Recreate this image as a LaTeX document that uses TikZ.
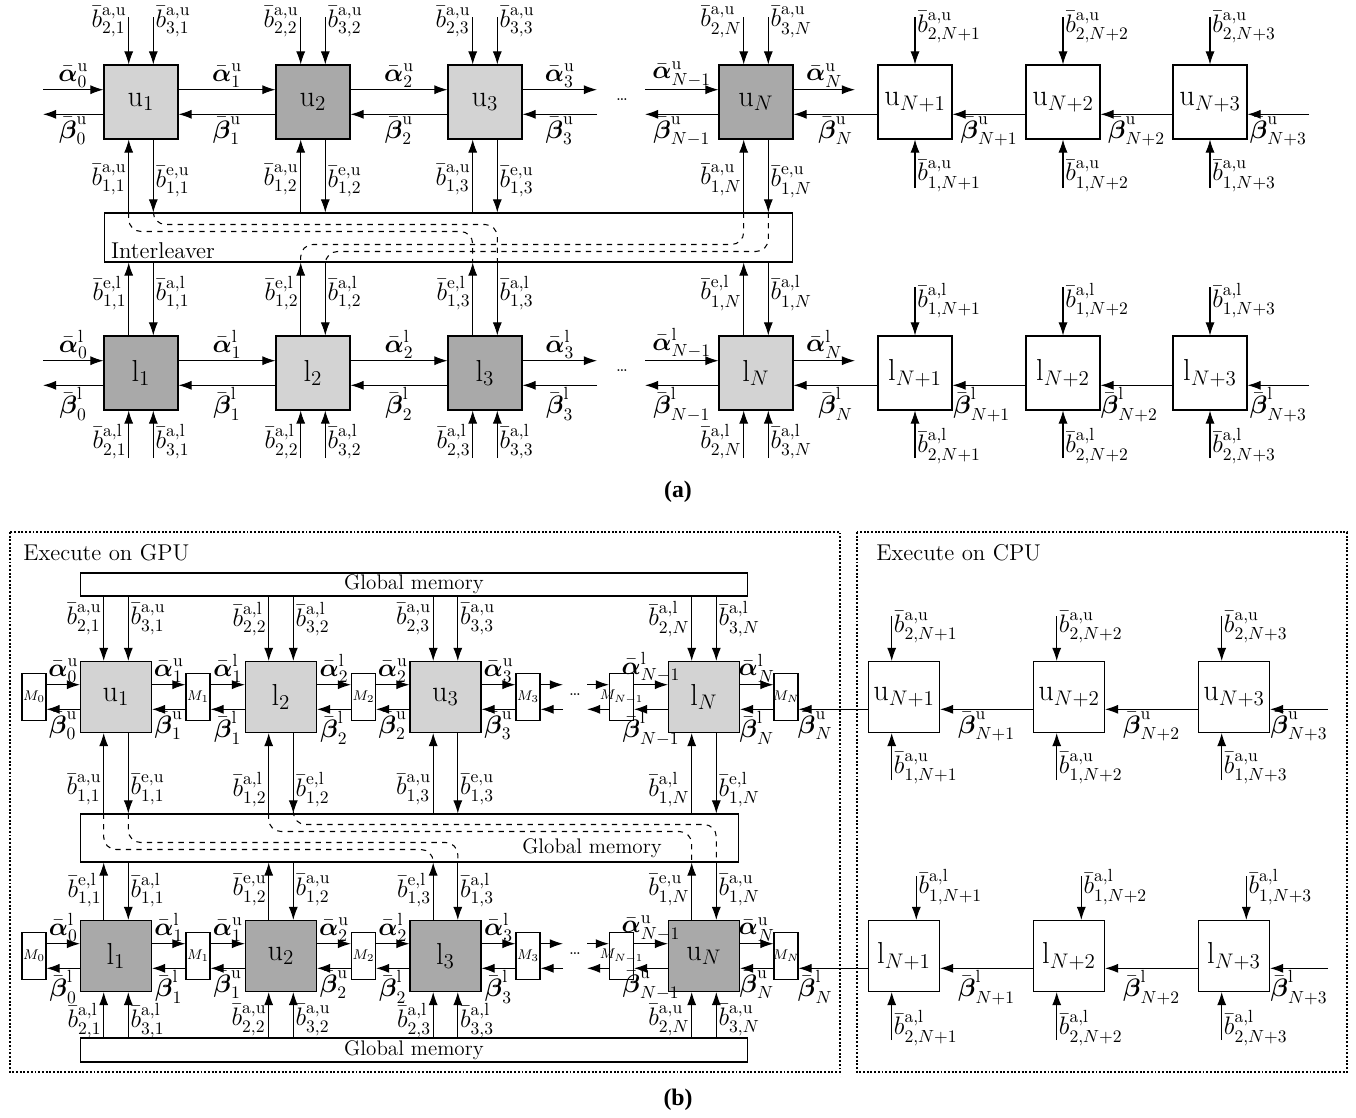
\documentclass[tikz,border=0pt]{standalone}
\usepackage{amsmath}
\usepackage{fontspec}
\newfontfamily\capfont{Liberation Serif}
\usetikzlibrary{arrows.meta}

\definecolor{lightbox}{HTML}{D3D3D3}
\definecolor{darkbox}{HTML}{A9A9A9}

\newcommand{\bbit}[2]{\bar{b}^{\mathrm{#1}}_{#2}}
\newcommand{\albar}[2]{\bar{\boldsymbol{\alpha}}^{\mathrm{#1}}_{#2}}
\newcommand{\bebar}[2]{\bar{\boldsymbol{\beta}}^{\mathrm{#1}}_{#2}}

\tikzset{
  blk/.style={draw, minimum size=1.48cm, inner sep=0pt, font=\LARGE},
  cblk/.style={blk, minimum size=1.42cm},
  lite/.style={fill=lightbox},
  dark/.style={fill=darkbox},
  mbox/.style={draw, fill=white, minimum width=0.48cm, minimum height=0.94cm, inner sep=0pt},
  mem/.style={draw, inner sep=0pt},
  arr/.style={-{Latex[length=7.5pt,width=5.2pt]}},
  lbl/.style={font=\Large, inner sep=1pt},
  link/.style={dashed, rounded corners=7pt},
  area/.style={densely dotted, line width=1.1pt},
  captxt/.style={font=\capfont\bfseries\fontsize{13.5}{16}\selectfont},
}

\begin{document}
\begin{tikzpicture}[x=0.02cm, y=-0.02cm, line width=0.6pt]
  \useasboundingbox (0,0) rectangle (1356,1117);

  % Arrow offset from the box middle
  \def\pofs{7pt}

  % ================= (a) =================
  % Levels of the free ends
  \coordinate (atop) at (0,17);
  \coordinate (rmid) at (0,188);
  \coordinate (rtop) at (0,287);
  \coordinate (abot) at (0,458);

  % Upper decoder
  \node[blk, lite] (u1) at (141,102) {$\mathrm{u}_1$};
  \node[blk, dark] (u2) at (313,102) {$\mathrm{u}_2$};
  \node[blk, lite] (u3) at (485,102) {$\mathrm{u}_3$};
  \node[blk, dark] (uN) at (756,102) {$\mathrm{u}_N$};
  \node[blk] (uN1) at (915,102) {$\mathrm{u}_{N+1}$};
  \node[blk] (uN2) at (1063,102) {$\mathrm{u}_{N+2}$};
  \node[blk] (uN3) at (1210,102) {$\mathrm{u}_{N+3}$};
  \coordinate (uL) at (43,102);
  \coordinate (uR3) at (597,102);
  \coordinate (uLN) at (645,102);
  \coordinate (uRN) at (855,102);
  \coordinate (uR) at (1309,102);
  \node (udots) at (622,100) {\dots};

  % Lower decoder
  \node[blk, dark] (l1) at (141,373) {$\mathrm{l}_1$};
  \node[blk, lite] (l2) at (313,373) {$\mathrm{l}_2$};
  \node[blk, dark] (l3) at (485,373) {$\mathrm{l}_3$};
  \node[blk, lite] (lN) at (756,373) {$\mathrm{l}_N$};
  \node[blk] (lN1) at (915,373) {$\mathrm{l}_{N+1}$};
  \node[blk] (lN2) at (1063,373) {$\mathrm{l}_{N+2}$};
  \node[blk] (lN3) at (1210,373) {$\mathrm{l}_{N+3}$};
  \coordinate (lL) at (43,373);
  \coordinate (lR3) at (597,373);
  \coordinate (lLN) at (645,373);
  \coordinate (lRN) at (855,373);
  \coordinate (lR) at (1309,373);
  \node (ldots) at (622,371) {\dots};

  % Interleaver
  \node[mem, minimum width=13.78cm, minimum height=0.98cm] (il) at (448.5,237.5) {};
  \node[anchor=south west, inner sep=2pt, xshift=2pt, font=\fontsize{13}{15}\selectfont] (iltxt) at (il.south west) {Interleaver};

  % Upper chain
  \draw[arr] ([yshift=\pofs]uL) -- ([yshift=\pofs]u1.west) node[lbl, midway, above] {$\albar{u}{0}$};
  \draw[arr] ([yshift=-\pofs]u1.west) -- ([yshift=-\pofs]uL) node[lbl, midway, below] {$\bebar{u}{0}$};
  \draw[arr] ([yshift=\pofs]u1.east) -- ([yshift=\pofs]u2.west) node[lbl, midway, above] {$\albar{u}{1}$};
  \draw[arr] ([yshift=-\pofs]u2.west) -- ([yshift=-\pofs]u1.east) node[lbl, midway, below] {$\bebar{u}{1}$};
  \draw[arr] ([yshift=\pofs]u2.east) -- ([yshift=\pofs]u3.west) node[lbl, midway, above] {$\albar{u}{2}$};
  \draw[arr] ([yshift=-\pofs]u3.west) -- ([yshift=-\pofs]u2.east) node[lbl, midway, below] {$\bebar{u}{2}$};
  \draw[arr] ([yshift=\pofs]u3.east) -- ([yshift=\pofs]uR3) node[lbl, midway, above] {$\albar{u}{3}$};
  \draw[arr] ([yshift=-\pofs]uR3) -- ([yshift=-\pofs]u3.east) node[lbl, midway, below] {$\bebar{u}{3}$};
  \draw[arr] ([yshift=\pofs]uLN) -- ([yshift=\pofs]uN.west) node[lbl, midway, above] {$\albar{u}{N-1}$};
  \draw[arr] ([yshift=-\pofs]uN.west) -- ([yshift=-\pofs]uLN) node[lbl, midway, below] {$\bebar{u}{N-1}$};
  \draw[arr] ([yshift=\pofs]uN.east) -- ([yshift=\pofs]uRN) node[lbl, midway, above] {$\albar{u}{N}$};
  \draw[arr] ([yshift=-\pofs]uN1.west) -- ([yshift=-\pofs]uN.east) node[lbl, midway, below] {$\bebar{u}{N}$};
  \draw[arr] ([yshift=-\pofs]uN2.west) -- ([yshift=-\pofs]uN1.east) node[lbl, midway, below] {$\bebar{u}{N+1}$};
  \draw[arr] ([yshift=-\pofs]uN3.west) -- ([yshift=-\pofs]uN2.east) node[lbl, midway, below] {$\bebar{u}{N+2}$};
  \draw[arr] ([yshift=-\pofs]uR) -- ([yshift=-\pofs]uN3.east) node[lbl, midway, below] {$\bebar{u}{N+3}$};

  % Lower chain
  \draw[arr] ([yshift=\pofs]lL) -- ([yshift=\pofs]l1.west) node[lbl, midway, above] {$\albar{l}{0}$};
  \draw[arr] ([yshift=-\pofs]l1.west) -- ([yshift=-\pofs]lL) node[lbl, midway, below] {$\bebar{l}{0}$};
  \draw[arr] ([yshift=\pofs]l1.east) -- ([yshift=\pofs]l2.west) node[lbl, midway, above] {$\albar{l}{1}$};
  \draw[arr] ([yshift=-\pofs]l2.west) -- ([yshift=-\pofs]l1.east) node[lbl, midway, below] {$\bebar{l}{1}$};
  \draw[arr] ([yshift=\pofs]l2.east) -- ([yshift=\pofs]l3.west) node[lbl, midway, above] {$\albar{l}{2}$};
  \draw[arr] ([yshift=-\pofs]l3.west) -- ([yshift=-\pofs]l2.east) node[lbl, midway, below] {$\bebar{l}{2}$};
  \draw[arr] ([yshift=\pofs]l3.east) -- ([yshift=\pofs]lR3) node[lbl, midway, above] {$\albar{l}{3}$};
  \draw[arr] ([yshift=-\pofs]lR3) -- ([yshift=-\pofs]l3.east) node[lbl, midway, below] {$\bebar{l}{3}$};
  \draw[arr] ([yshift=\pofs]lLN) -- ([yshift=\pofs]lN.west) node[lbl, midway, above] {$\albar{l}{N-1}$};
  \draw[arr] ([yshift=-\pofs]lN.west) -- ([yshift=-\pofs]lLN) node[lbl, midway, below] {$\bebar{l}{N-1}$};
  \draw[arr] ([yshift=\pofs]lN.east) -- ([yshift=\pofs]lRN) node[lbl, midway, above] {$\albar{l}{N}$};
  \draw[arr] ([yshift=-\pofs]lN1.west) -- ([yshift=-\pofs]lN.east) node[lbl, midway, below] {$\bebar{l}{N}$};
  \draw[arr] ([yshift=-\pofs]lN2.west) -- ([yshift=-\pofs]lN1.east) node[lbl, pos=0.6, below] {$\bebar{l}{N+1}$};
  \draw[arr] ([yshift=-\pofs]lN3.west) -- ([yshift=-\pofs]lN2.east) node[lbl, pos=0.6, below] {$\bebar{l}{N+2}$};
  \draw[arr] ([yshift=-\pofs]lR) -- ([yshift=-\pofs]lN3.east) node[lbl, midway, below] {$\bebar{l}{N+3}$};

  % Upper decoder inputs and outputs
  \foreach \n/\i in {u1/1, u2/2, u3/3, uN/N} {
    \draw[arr] ([xshift=-\pofs]\n.north |- atop) -- ([xshift=-\pofs]\n.north) node[lbl, pos=0.1, left] {$\bbit{a,u}{2,\i}$};
    \draw[arr] ([xshift=\pofs]\n.north |- atop) -- ([xshift=\pofs]\n.north) node[lbl, pos=0.1, right] {$\bbit{a,u}{3,\i}$};
    \draw[arr] ([xshift=-\pofs]\n.south |- il.north) -- ([xshift=-\pofs]\n.south) node[lbl, pos=0.45, left] {$\bbit{a,u}{1,\i}$};
    \draw[arr] ([xshift=\pofs]\n.south) -- ([xshift=\pofs]\n.south |- il.north) node[lbl, pos=0.58, right] {$\bbit{e,u}{1,\i}$};
  }

  % Lower decoder inputs and outputs
  \foreach \n/\i in {l1/1, l2/2, l3/3, lN/N} {
    \draw[arr] ([xshift=-\pofs]\n.north) -- ([xshift=-\pofs]\n.north |- il.south) node[lbl, pos=0.58, left] {$\bbit{e,l}{1,\i}$};
    \draw[arr] ([xshift=\pofs]\n.north |- il.south) -- ([xshift=\pofs]\n.north) node[lbl, pos=0.42, right] {$\bbit{a,l}{1,\i}$};
    \draw[arr] ([xshift=-\pofs]\n.south |- abot) -- ([xshift=-\pofs]\n.south) node[lbl, pos=0.35, left] {$\bbit{a,l}{2,\i}$};
    \draw[arr] ([xshift=\pofs]\n.south |- abot) -- ([xshift=\pofs]\n.south) node[lbl, pos=0.35, right] {$\bbit{a,l}{3,\i}$};
  }

  % Tail boxes
  \foreach \n/\i in {uN1/N+1, uN2/N+2, uN3/N+3} {
    \draw[arr] (\n.north |- atop) -- (\n.north) node[lbl, pos=0.22, right] {$\bbit{a,u}{2,\i}$};
    \draw[arr] (\n.south |- rmid) -- (\n.south) node[lbl, pos=0.25, right] {$\bbit{a,u}{1,\i}$};
  }
  \foreach \n/\i in {lN1/N+1, lN2/N+2, lN3/N+3} {
    \draw[arr] (\n.north |- rtop) -- (\n.north) node[lbl, pos=0.28, right] {$\bbit{a,l}{1,\i}$};
    \draw[arr] (\n.south |- abot) -- (\n.south) node[lbl, pos=0.25, right] {$\bbit{a,l}{2,\i}$};
  }

  % Interleaver links
  \draw[link] ([xshift=-\pofs]u1.south |- il.north) -- ++(0,19) -| ([xshift=-\pofs]l3.north |- il.south);
  \draw[link] ([xshift=\pofs]u1.south |- il.north) -- ++(0,12) -| ([xshift=\pofs]l3.north |- il.south);
  \draw[link] ([xshift=-\pofs]uN.south |- il.north) -- ++(0,32) -| ([xshift=-\pofs]l2.north |- il.south);
  \draw[link] ([xshift=\pofs]uN.south |- il.north) -- ++(0,39) -| ([xshift=\pofs]l2.north |- il.south);

  \node[captxt] (capa) at (678,492) {(a)};

  % ================= (b) =================
  % Areas
  \draw[area] (10,532) rectangle (840,1072);
  \draw[area] (857,532) rectangle (1347,1072);
  \node[anchor=west, font=\fontsize{13}{15}\selectfont] (gputxt) at (17,553) {Execute on GPU};
  \node[anchor=west, font=\fontsize{13}{15}\selectfont] (cputxt) at (870,553) {Execute on CPU};

  % Global memory
  \node[mem, minimum width=13.36cm, minimum height=0.46cm, font=\large] (tm) at (414,584.5) {Global memory};
  \node[mem, minimum width=13.18cm, minimum height=0.96cm] (mm) at (409.5,838) {};
  \node[font=\large] (mmtxt) at (592,848) {Global memory};
  \node[mem, minimum width=13.36cm, minimum height=0.48cm, font=\large] (bm) at (414,1050) {Global memory};

  % Upper kernel row
  \node[cblk, lite] (bu1) at (116,697) {$\mathrm{u}_1$};
  \node[cblk, lite] (bl2) at (281,697) {$\mathrm{l}_2$};
  \node[cblk, lite] (bu3) at (445.5,697) {$\mathrm{u}_3$};
  \node[cblk, lite] (blN) at (704,697) {$\mathrm{l}_N$};
  \node[mbox, label={[font=\footnotesize, inner sep=0pt]center:$M_0$}] (m0) at (34,697) {};
  \node[mbox, label={[font=\footnotesize, inner sep=0pt]center:$M_1$}] (m1) at (198,697) {};
  \node[mbox, label={[font=\footnotesize, inner sep=0pt]center:$M_2$}] (m2) at (363.5,697) {};
  \node[mbox, label={[font=\footnotesize, inner sep=0pt]center:$M_3$}] (m3) at (528,697) {};
  \node[mbox, label={[font=\footnotesize, inner sep=0pt]center:$M_{N-1}$}] (mN1) at (621.5,697) {};
  \node[mbox, label={[font=\footnotesize, inner sep=0pt]center:$M_N$}] (mN) at (786,697) {};
  \coordinate (bR3) at (563,697);
  \coordinate (bLN) at (587,697);
  \node (bdots) at (575,695) {\dots};

  % Lower kernel row
  \node[cblk, dark] (bl1) at (116,956) {$\mathrm{l}_1$};
  \node[cblk, dark] (bu2) at (281,956) {$\mathrm{u}_2$};
  \node[cblk, dark] (bl3) at (445.5,956) {$\mathrm{l}_3$};
  \node[cblk, dark] (buN) at (704,956) {$\mathrm{u}_N$};
  \node[mbox, label={[font=\footnotesize, inner sep=0pt]center:$M_0$}] (n0) at (34,956) {};
  \node[mbox, label={[font=\footnotesize, inner sep=0pt]center:$M_1$}] (n1) at (198,956) {};
  \node[mbox, label={[font=\footnotesize, inner sep=0pt]center:$M_2$}] (n2) at (363.5,956) {};
  \node[mbox, label={[font=\footnotesize, inner sep=0pt]center:$M_3$}] (n3) at (528,956) {};
  \node[mbox, label={[font=\footnotesize, inner sep=0pt]center:$M_{N-1}$}] (nN1) at (621.5,956) {};
  \node[mbox, label={[font=\footnotesize, inner sep=0pt]center:$M_N$}] (nN) at (786,956) {};
  \coordinate (cR3) at (563,956);
  \coordinate (cLN) at (587,956);
  \node (cdots) at (575,954) {\dots};

  % CPU rows
  \node[cblk] (cu1) at (904,697) {$\mathrm{u}_{N+1}$};
  \node[cblk] (cu2) at (1069,697) {$\mathrm{u}_{N+2}$};
  \node[cblk] (cu3) at (1234,697) {$\mathrm{u}_{N+3}$};
  \node[cblk] (cl1) at (904,956) {$\mathrm{l}_{N+1}$};
  \node[cblk] (cl2) at (1069,956) {$\mathrm{l}_{N+2}$};
  \node[cblk] (cl3) at (1234,956) {$\mathrm{l}_{N+3}$};
  \coordinate (cR) at (1328,697);
  \coordinate (dR) at (1328,956);
  \coordinate (ctop) at (0,616);
  \coordinate (cbot) at (0,780);
  \coordinate (dtop) at (0,876);
  \coordinate (dbot) at (0,1040);

  % Upper kernel chain
  \draw[arr] ([yshift=\pofs]m0.east) -- ([yshift=\pofs]bu1.west) node[lbl, midway, above] {$\albar{u}{0}$};
  \draw[arr] ([yshift=-\pofs]bu1.west) -- ([yshift=-\pofs]m0.east) node[lbl, midway, below] {$\bebar{u}{0}$};
  \draw[arr] ([yshift=\pofs]bu1.east) -- ([yshift=\pofs]m1.west) node[lbl, midway, above] {$\albar{u}{1}$};
  \draw[arr] ([yshift=-\pofs]m1.west) -- ([yshift=-\pofs]bu1.east) node[lbl, midway, below] {$\bebar{u}{1}$};
  \draw[arr] ([yshift=\pofs]m1.east) -- ([yshift=\pofs]bl2.west) node[lbl, midway, above] {$\albar{l}{1}$};
  \draw[arr] ([yshift=-\pofs]bl2.west) -- ([yshift=-\pofs]m1.east) node[lbl, midway, below] {$\bebar{l}{1}$};
  \draw[arr] ([yshift=\pofs]bl2.east) -- ([yshift=\pofs]m2.west) node[lbl, midway, above] {$\albar{l}{2}$};
  \draw[arr] ([yshift=-\pofs]m2.west) -- ([yshift=-\pofs]bl2.east) node[lbl, midway, below] {$\bebar{l}{2}$};
  \draw[arr] ([yshift=\pofs]m2.east) -- ([yshift=\pofs]bu3.west) node[lbl, midway, above] {$\albar{u}{2}$};
  \draw[arr] ([yshift=-\pofs]bu3.west) -- ([yshift=-\pofs]m2.east) node[lbl, midway, below] {$\bebar{u}{2}$};
  \draw[arr] ([yshift=\pofs]bu3.east) -- ([yshift=\pofs]m3.west) node[lbl, midway, above] {$\albar{u}{3}$};
  \draw[arr] ([yshift=-\pofs]m3.west) -- ([yshift=-\pofs]bu3.east) node[lbl, midway, below] {$\bebar{u}{3}$};
  \draw[arr] ([yshift=\pofs]m3.east) -- ([yshift=\pofs]bR3);
  \draw[arr] ([yshift=-\pofs]bR3) -- ([yshift=-\pofs]m3.east);
  \draw[arr] ([yshift=\pofs]bLN) -- ([yshift=\pofs]mN1.west);
  \draw[arr] ([yshift=-\pofs]mN1.west) -- ([yshift=-\pofs]bLN);
  \draw[arr] ([yshift=\pofs]mN1.east) -- ([yshift=\pofs]blN.west) node[lbl, midway, above] {$\albar{l}{N-1}$};
  \draw[arr] ([yshift=-\pofs]blN.west) -- ([yshift=-\pofs]mN1.east) node[lbl, midway, below] {$\bebar{l}{N-1}$};
  \draw[arr] ([yshift=\pofs]blN.east) -- ([yshift=\pofs]mN.west) node[lbl, midway, above] {$\albar{l}{N}$};
  \draw[arr] ([yshift=-\pofs]mN.west) -- ([yshift=-\pofs]blN.east) node[lbl, midway, below] {$\bebar{l}{N}$};
  \draw[arr] ([yshift=-\pofs]cu1.west) -- ([yshift=-\pofs]mN.east) node[lbl, pos=0.76, below] {$\bebar{u}{N}$};
  \draw[arr] ([yshift=-\pofs]cu2.west) -- ([yshift=-\pofs]cu1.east) node[lbl, midway, below] {$\bebar{u}{N+1}$};
  \draw[arr] ([yshift=-\pofs]cu3.west) -- ([yshift=-\pofs]cu2.east) node[lbl, midway, below] {$\bebar{u}{N+2}$};
  \draw[arr] ([yshift=-\pofs]cR) -- ([yshift=-\pofs]cu3.east) node[lbl, midway, below] {$\bebar{u}{N+3}$};

  % Lower kernel chain
  \draw[arr] ([yshift=\pofs]n0.east) -- ([yshift=\pofs]bl1.west) node[lbl, midway, above] {$\albar{l}{0}$};
  \draw[arr] ([yshift=-\pofs]bl1.west) -- ([yshift=-\pofs]n0.east) node[lbl, midway, below] {$\bebar{l}{0}$};
  \draw[arr] ([yshift=\pofs]bl1.east) -- ([yshift=\pofs]n1.west) node[lbl, midway, above] {$\albar{l}{1}$};
  \draw[arr] ([yshift=-\pofs]n1.west) -- ([yshift=-\pofs]bl1.east) node[lbl, midway, below] {$\bebar{l}{1}$};
  \draw[arr] ([yshift=\pofs]n1.east) -- ([yshift=\pofs]bu2.west) node[lbl, midway, above] {$\albar{u}{1}$};
  \draw[arr] ([yshift=-\pofs]bu2.west) -- ([yshift=-\pofs]n1.east) node[lbl, midway, below] {$\bebar{u}{1}$};
  \draw[arr] ([yshift=\pofs]bu2.east) -- ([yshift=\pofs]n2.west) node[lbl, midway, above] {$\albar{u}{2}$};
  \draw[arr] ([yshift=-\pofs]n2.west) -- ([yshift=-\pofs]bu2.east) node[lbl, midway, below] {$\bebar{u}{2}$};
  \draw[arr] ([yshift=\pofs]n2.east) -- ([yshift=\pofs]bl3.west) node[lbl, midway, above] {$\albar{l}{2}$};
  \draw[arr] ([yshift=-\pofs]bl3.west) -- ([yshift=-\pofs]n2.east) node[lbl, midway, below] {$\bebar{l}{2}$};
  \draw[arr] ([yshift=\pofs]bl3.east) -- ([yshift=\pofs]n3.west) node[lbl, midway, above] {$\albar{l}{3}$};
  \draw[arr] ([yshift=-\pofs]n3.west) -- ([yshift=-\pofs]bl3.east) node[lbl, midway, below] {$\bebar{l}{3}$};
  \draw[arr] ([yshift=\pofs]n3.east) -- ([yshift=\pofs]cR3);
  \draw[arr] ([yshift=-\pofs]cR3) -- ([yshift=-\pofs]n3.east);
  \draw[arr] ([yshift=\pofs]cLN) -- ([yshift=\pofs]nN1.west);
  \draw[arr] ([yshift=-\pofs]nN1.west) -- ([yshift=-\pofs]cLN);
  \draw[arr] ([yshift=\pofs]nN1.east) -- ([yshift=\pofs]buN.west) node[lbl, midway, above] {$\albar{u}{N-1}$};
  \draw[arr] ([yshift=-\pofs]buN.west) -- ([yshift=-\pofs]nN1.east) node[lbl, midway, below] {$\bebar{u}{N-1}$};
  \draw[arr] ([yshift=\pofs]buN.east) -- ([yshift=\pofs]nN.west) node[lbl, midway, above] {$\albar{u}{N}$};
  \draw[arr] ([yshift=-\pofs]nN.west) -- ([yshift=-\pofs]buN.east) node[lbl, midway, below] {$\bebar{u}{N}$};
  \draw[arr] ([yshift=-\pofs]cl1.west) -- ([yshift=-\pofs]nN.east) node[lbl, pos=0.76, below] {$\bebar{l}{N}$};
  \draw[arr] ([yshift=-\pofs]cl2.west) -- ([yshift=-\pofs]cl1.east) node[lbl, midway, below] {$\bebar{l}{N+1}$};
  \draw[arr] ([yshift=-\pofs]cl3.west) -- ([yshift=-\pofs]cl2.east) node[lbl, midway, below] {$\bebar{l}{N+2}$};
  \draw[arr] ([yshift=-\pofs]dR) -- ([yshift=-\pofs]cl3.east) node[lbl, midway, below] {$\bebar{l}{N+3}$};

  % Upper kernel memory traffic
  \foreach \n/\s/\i in {bu1/u/1, bl2/l/2, bu3/u/3, blN/l/N} {
    \draw[arr] ([xshift=-\pofs]\n.north |- tm.south) -- ([xshift=-\pofs]\n.north) node[lbl, pos=0.35, left] {$\bbit{a,\s}{2,\i}$};
    \draw[arr] ([xshift=\pofs]\n.north |- tm.south) -- ([xshift=\pofs]\n.north) node[lbl, pos=0.35, right] {$\bbit{a,\s}{3,\i}$};
    \draw[arr] ([xshift=-\pofs]\n.south |- mm.north) -- ([xshift=-\pofs]\n.south) node[lbl, pos=0.3, left] {$\bbit{a,\s}{1,\i}$};
    \draw[arr] ([xshift=\pofs]\n.south) -- ([xshift=\pofs]\n.south |- mm.north) node[lbl, pos=0.7, right] {$\bbit{e,\s}{1,\i}$};
  }

  % Lower kernel memory traffic
  \foreach \n/\s/\i in {bl1/l/1, bu2/u/2, bl3/l/3, buN/u/N} {
    \draw[arr] ([xshift=-\pofs]\n.north) -- ([xshift=-\pofs]\n.north |- mm.south) node[lbl, pos=0.52, left] {$\bbit{e,\s}{1,\i}$};
    \draw[arr] ([xshift=\pofs]\n.north |- mm.south) -- ([xshift=\pofs]\n.north) node[lbl, pos=0.48, right] {$\bbit{a,\s}{1,\i}$};
    \draw[arr] ([xshift=-\pofs]\n.south |- bm.north) -- ([xshift=-\pofs]\n.south) node[lbl, pos=0.38, left] {$\bbit{a,\s}{2,\i}$};
    \draw[arr] ([xshift=\pofs]\n.south |- bm.north) -- ([xshift=\pofs]\n.south) node[lbl, pos=0.38, right] {$\bbit{a,\s}{3,\i}$};
  }

  % CPU inputs
  \foreach \n/\i in {cu1/N+1, cu2/N+2, cu3/N+3} {
    \draw[arr] ([xshift=-\pofs]\n.north |- ctop) -- ([xshift=-\pofs]\n.north) node[lbl, pos=0.25, right] {$\bbit{a,u}{2,\i}$};
    \draw[arr] ([xshift=-\pofs]\n.south |- cbot) -- ([xshift=-\pofs]\n.south) node[lbl, pos=0.25, right] {$\bbit{a,u}{1,\i}$};
  }
  \foreach \n/\i in {cl1/N+1, cl2/N+2, cl3/N+3} {
    \draw[arr] ([xshift=\pofs]\n.north |- dtop) -- ([xshift=\pofs]\n.north) node[lbl, pos=0.25, right] {$\bbit{a,l}{1,\i}$};
    \draw[arr] ([xshift=-\pofs]\n.south |- dbot) -- ([xshift=-\pofs]\n.south) node[lbl, pos=0.25, right] {$\bbit{a,l}{2,\i}$};
  }

  % Interleaving in global memory
  \draw[link] ([xshift=-\pofs]bu1.south |- mm.north) -- ++(0,36) -| ([xshift=-\pofs]bl3.north |- mm.south);
  \draw[link] ([xshift=\pofs]bu1.south |- mm.north) -- ++(0,29) -| ([xshift=\pofs]bl3.north |- mm.south);
  \draw[link] ([xshift=-\pofs]bl2.south |- mm.north) -- ++(0,18) -| ([xshift=-\pofs]buN.north |- mm.south);
  \draw[link] ([xshift=\pofs]bl2.south |- mm.north) -- ++(0,11) -| ([xshift=\pofs]buN.north |- mm.south);

  \node[captxt] (capb) at (678,1100) {(b)};
\end{tikzpicture}
\end{document}
